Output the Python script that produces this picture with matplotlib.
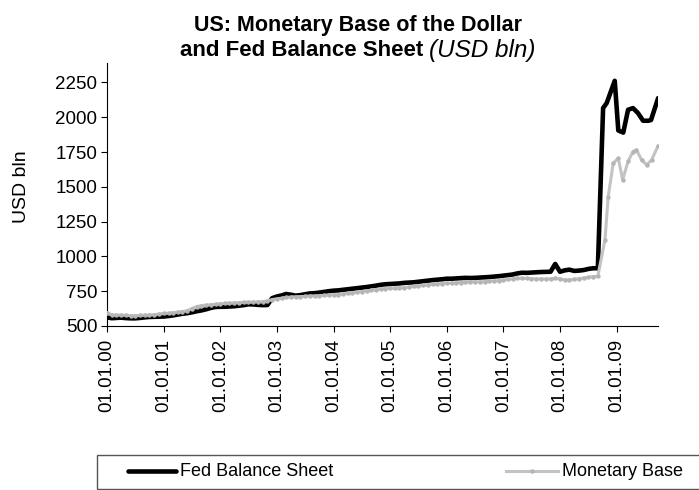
import matplotlib
matplotlib.use("Agg")
import matplotlib.pyplot as plt
import matplotlib.dates as mdates
from matplotlib.lines import Line2D
from matplotlib.patches import Rectangle
import pandas as pd

# monthly readings, Jan 2000 .. Sep 2008
fed_monthly = [
    562, 556, 558, 560, 557, 555, 555, 558, 562, 565, 566, 567,
    568, 572, 576, 582, 588, 592, 598, 606, 612, 620, 630, 637,
    638, 638, 640, 642, 646, 650, 656, 655, 652, 650, 651, 700,
    712, 720, 730, 725, 718, 722, 728, 734, 736, 740, 745, 750,
    754, 756, 760, 764, 768, 772, 776, 780, 785, 790, 796, 800,
    802, 804, 806, 810, 812, 814, 818, 822, 826, 830, 833, 836,
    840, 840, 842, 844, 846, 845, 846, 848, 850, 852, 855, 858,
    862, 866, 870, 878, 883, 882, 884, 886, 888, 889, 890, 946,
    890, 900, 905, 896, 898, 902, 910, 915, 915,
]
mb_monthly = [
    596, 580, 578, 579, 577, 575, 574, 576, 578, 579, 582, 586,
    590, 592, 596, 600, 604, 610, 625, 640, 646, 650, 654, 656,
    660, 663, 664, 666, 668, 670, 671, 672, 674, 675, 680, 690,
    695, 700, 705, 708, 710, 711, 713, 716, 716, 718, 720, 722,
    723, 726, 730, 734, 738, 742, 747, 752, 757, 762, 766, 768,
    770, 772, 774, 776, 780, 784, 788, 792, 796, 800, 802, 805,
    807, 808, 810, 812, 814, 815, 817, 818, 819, 821, 823, 826,
    830, 835, 840, 843, 843, 842, 840, 838, 838, 838, 839, 843,
    838, 831, 832, 835, 840, 845, 850, 855, 858,
]

# crisis period, irregular dates
fed_tail_dates = ["2008-10-05", "2008-10-28", "2008-12-19", "2009-01-11",
                  "2009-02-12", "2009-03-15", "2009-04-16", "2009-05-18",
                  "2009-06-20", "2009-07-23", "2009-08-10", "2009-09-25"]
fed_tail = [2066, 2102, 2262, 1905, 1890, 2054, 2066, 2030, 1975, 1975, 1980, 2138]

mb_tail_dates = ["2008-10-17", "2008-11-07", "2008-12-09", "2009-01-11",
                 "2009-02-08", "2009-03-15", "2009-04-16", "2009-05-08",
                 "2009-06-10", "2009-07-13", "2009-08-14", "2009-09-25"]
mb_tail = [1119, 1430, 1670, 1706, 1550, 1683, 1754, 1766, 1694, 1658, 1694, 1795]

y_ticks = [500, 750, 1000, 1250, 1500, 1750, 2000, 2250]
tick_years = list(range(2000, 2010))

months = pd.date_range("2000-01-01", "2008-09-01", freq="MS")
fed_dates = list(months) + list(pd.to_datetime(fed_tail_dates))
mb_dates = list(months) + list(pd.to_datetime(mb_tail_dates))
fed = fed_monthly + fed_tail
mb = mb_monthly + mb_tail

plt.rcParams["font.family"] = ["Liberation Sans", "DejaVu Sans"]

W, H = 699, 490
fig = plt.figure(figsize=(W / 100, H / 100), dpi=100)
ax = fig.add_axes([107 / W, 1 - 326 / H, 551.3 / W, 263 / H])

ax.plot(fed_dates, fed, color="black", lw=3.3, solid_joinstyle="round",
        solid_capstyle="round", zorder=2)
ax.plot(mb_dates, mb, color="#c3c3c3", lw=2.2, marker="o", ms=2.2,
        mfc="#b5b5b5", mec="#b5b5b5", zorder=3)

ax.set_xlim(pd.Timestamp("2000-01-01"), pd.Timestamp("2009-09-26"))
ax.set_ylim(500, 2390)
ax.set_yticks(y_ticks)
ax.set_xticks([pd.Timestamp(f"{y}-01-01") for y in tick_years])
ax.xaxis.set_major_formatter(mdates.DateFormatter("%d.%m.%y"))
for lbl in ax.get_xticklabels():
    lbl.set_rotation(90)

ax.tick_params(axis="both", direction="out", length=4, width=0.8,
               labelsize=13.5, pad=3)
ax.tick_params(axis="x", pad=5)
for side in ("top", "right"):
    ax.spines[side].set_visible(False)
for side in ("left", "bottom"):
    ax.spines[side].set_linewidth(0.8)

fig.text(21 / W, 1 - 187 / H, "USD bln", rotation=90, ha="center",
         va="center", fontsize=14)

# title, second line mixes bold and italic
cx = 358 / W
fig.text(cx, 1 - 25 / H, "US: Monetary Base of the Dollar", ha="center",
         va="center", fontsize=15.5, fontweight="bold")
t1 = fig.text(0, 1 - 51 / H, "and Fed Balance Sheet", ha="left", va="center",
              fontsize=16, fontweight="bold")
t2 = fig.text(0, 1 - 51 / H, "(USD bln)", ha="left", va="center",
              fontsize=17.5, fontstyle="italic")
r = fig.canvas.get_renderer()
w1 = t1.get_window_extent(r).width
w2 = t2.get_window_extent(r).width
gap = 6
x0 = cx * W - (w1 + gap + w2) / 2
t1.set_x(x0 / W)
t2.set_x((x0 + w1 + gap) / W)

# legend box at the bottom
fig.add_artist(Rectangle((97 / W, 1 - 489 / H), 610 / W, 34 / H,
                         transform=fig.transFigure, fill=False,
                         edgecolor="#555555", lw=1.0))
ly = 1 - 471 / H
fig.add_artist(Line2D([128 / W, 176 / W], [ly, ly], color="black", lw=3.3,
                      solid_capstyle="round", transform=fig.transFigure))
fig.text(180 / W, ly, "Fed Balance Sheet", ha="left", va="center", fontsize=13)
fig.add_artist(Line2D([506 / W, 558 / W], [ly, ly], color="#c3c3c3", lw=2.2,
                      transform=fig.transFigure))
fig.add_artist(Line2D([532 / W], [ly], color="#b5b5b5", marker="o", ms=2.2,
                      transform=fig.transFigure))
fig.text(562 / W, ly, "Monetary Base", ha="left", va="center", fontsize=13)

fig.savefig("out.png", dpi=100)
